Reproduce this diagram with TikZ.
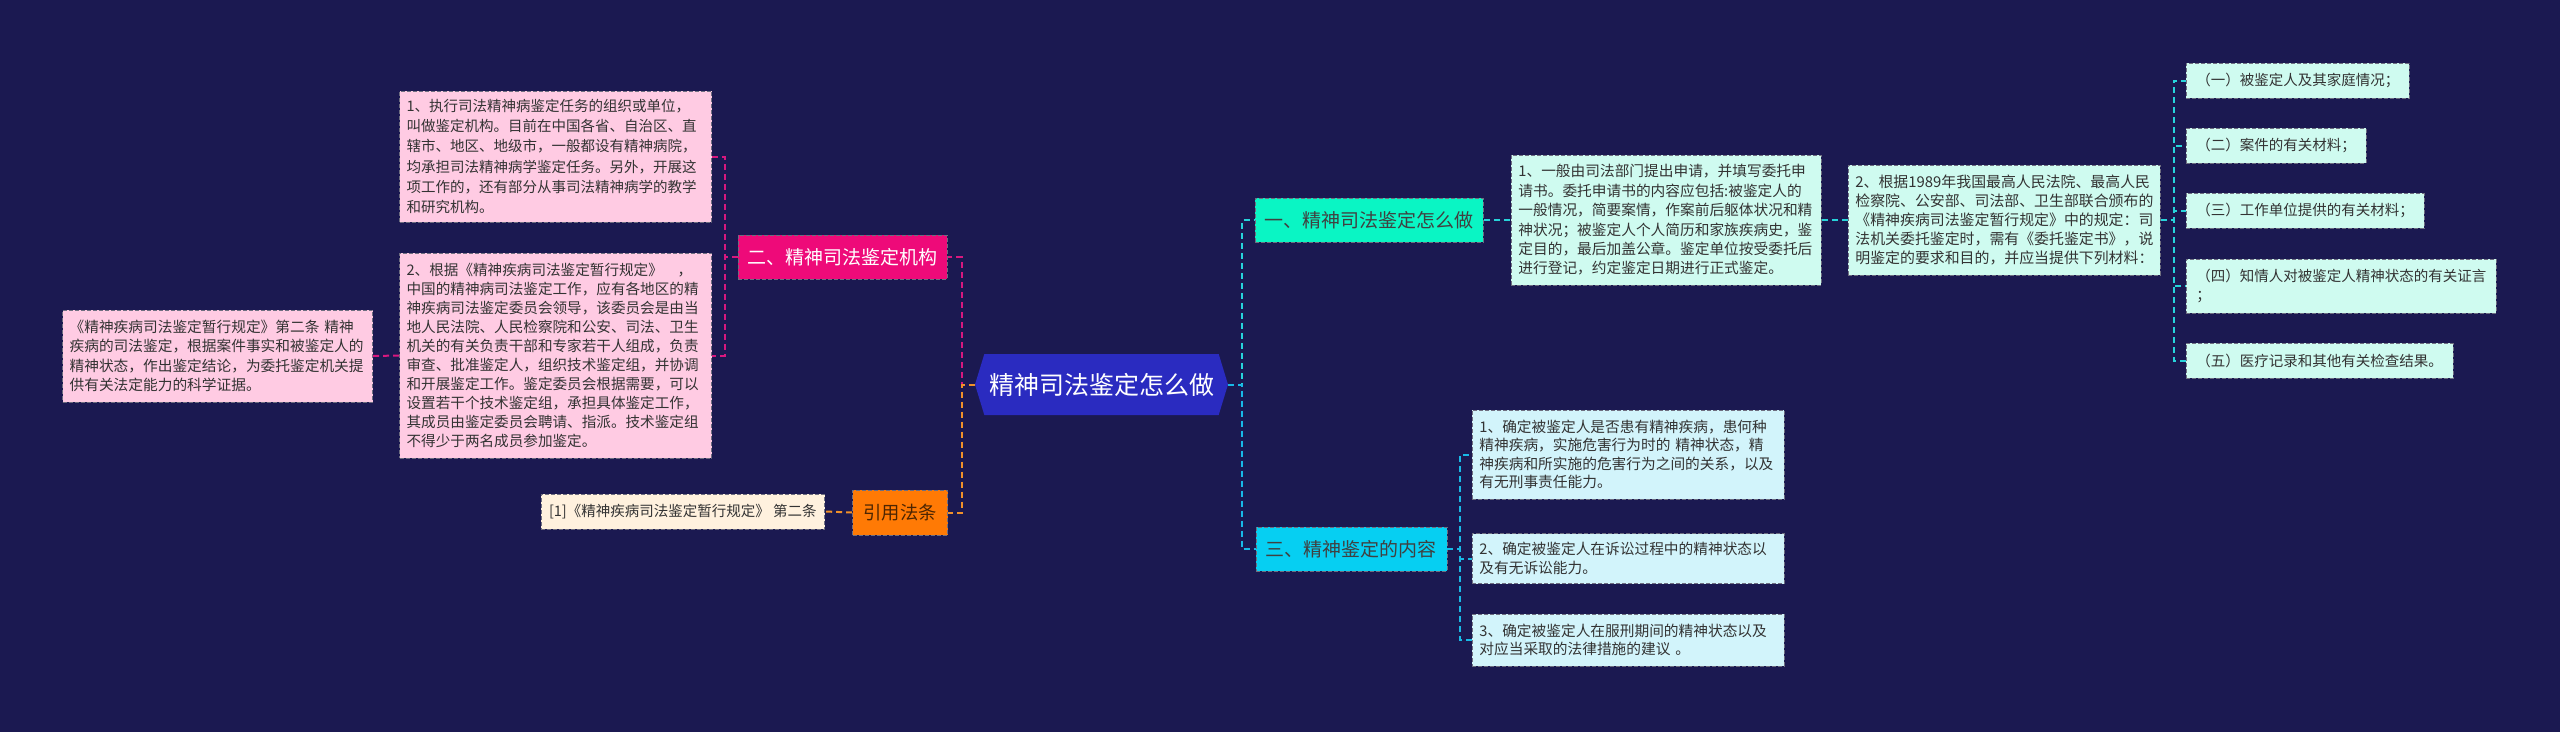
\documentclass[tikz,border=0pt]{standalone}
\usepackage{fontspec}
\setmainfont{Noto Sans CJK SC}
\usetikzlibrary{shapes.symbols}
\definecolor{mapbg}{HTML}{1B1951}
\definecolor{maproot}{HTML}{2A2BC0}
\definecolor{mapteal}{HTML}{0AF5C4}
\definecolor{mapsky}{HTML}{06CFF2}
\definecolor{mapmagenta}{HTML}{EE0A79}
\definecolor{maporange}{HTML}{FF7A05}
\definecolor{mapink}{HTML}{333333}
\definecolor{mapedge}{HTML}{6E6E80}
\definecolor{leafmint}{HTML}{CFFBF0}
\definecolor{leafice}{HTML}{D2F4FB}
\definecolor{leafpink}{HTML}{FFCBE3}
\definecolor{leafcream}{HTML}{FFF1DE}
\definecolor{linkteal}{HTML}{27D3DA}
\definecolor{linksky}{HTML}{18B9E6}
\definecolor{linkmagenta}{HTML}{D8187F}
\definecolor{linkorange}{HTML}{F0902A}
\newcommand{\mapfont}[2]{\fontsize{#1pt}{#2pt}\selectfont}
\tikzset{
  rootnode/.style={shape=signal,signal to=west and east,signal pointer angle=146,
    fill=maproot,text=white,minimum width=253pt,minimum height=61pt,inner sep=0pt,
    font=\mapfont{25}{30}},
  topicnode/.style={draw=mapedge,dash pattern=on 4pt off 2pt,line width=0.8pt,
    minimum height=44pt,inner xsep=8pt,font=\mapfont{19}{23}},
  notenode/.style={draw=mapedge,dash pattern=on 4pt off 2pt,line width=0.8pt,
    text=mapink,align=left,inner xsep=7pt,inner ysep=0pt},
  leafnode/.style={notenode,fill=leafmint,inner xsep=10pt,font=\mapfont{14.5}{19}},
  maplink/.style={dash pattern=on 6pt off 4pt,line width=2pt},
}

\begin{document}
\begin{tikzpicture}[x=1pt,y=-1pt]
  \fill[mapbg] (0,0) rectangle (2560,732);
  \node[rootnode] (root) at (1101.5,384.5) {精神司法鉴定怎么做};

  % main topics
  \node[topicnode,fill=mapteal,text=black!75,anchor=west,minimum width=228pt]
    (b1) at (1255,220) {一、精神司法鉴定怎么做};
  \node[topicnode,fill=mapsky,text=black!75,anchor=west,minimum width=191pt]
    (b3) at (1255.5,549) {三、精神鉴定的内容};
  \node[topicnode,fill=mapmagenta,text=white,anchor=east,minimum width=209pt]
    (b2) at (947.5,257) {二、精神司法鉴定机构};
  \node[topicnode,fill=maporange,text=black!70!maporange,anchor=east,minimum width=95pt,
    minimum height=45pt,font=\mapfont{18.3}{22}] (b4) at (948,512.5) {引用法条};

  % right side notes
  \node[notenode,fill=leafmint,anchor=west,text width=296pt,minimum height=130pt,
    font=\mapfont{14.7}{19.4}] (c11) at (1511,220)
    {1、一般由司法部门提出申请，并填写委托申\\
     请书。委托申请书的内容应包括:被鉴定人的\\
     一般情况，简要案情，作案前后躯体状况和精\\
     神状况；被鉴定人个人简历和家族疾病史，鉴\\
     定目的，最后加盖公章。鉴定单位按受委托后\\
     进行登记，约定鉴定日期进行正式鉴定。};
  \node[notenode,fill=leafmint,anchor=west,text width=298pt,minimum height=110pt,
    font=\mapfont{14.9}{19}] (c12) at (1848,220)
    {2、根据1989年我国最高人民法院、最高人民\\
     检察院、公安部、司法部、卫生部联合颁布的\\
     《精神疾病司法鉴定暂行规定》中的规定：司\\
     法机关委托鉴定时，需有《委托鉴定书》，说\\
     明鉴定的要求和目的，并应当提供下列材料：};
  \foreach \i/\y/\h/\t in {1/80.5/35/{（一）被鉴定人及其家庭情况；},
      2/145.5/35/{（二）案件的有关材料；},
      3/210.5/35/{（三）工作单位提供的有关材料；},
      4/286/54/{（四）知情人对被鉴定人精神状态的有关证言\\；},
      5/360.5/35/{（五）医疗记录和其他有关检查结果。}}
    {\node[leafnode,anchor=west,minimum height=\h pt] (d\i) at (2186,\y) {\t};}

  \node[notenode,fill=leafice,anchor=west,text width=298pt,minimum height=89pt,
    font=\mapfont{14.7}{18.3}] (c31) at (1472,454.5)
    {1、确定被鉴定人是否患有精神疾病，患何种\\
     精神疾病，实施危害行为时的 精神状态，精\\
     神疾病和所实施的危害行为之间的关系，以及\\
     有无刑事责任能力。};
  \node[notenode,fill=leafice,anchor=west,text width=298pt,minimum height=50pt,
    font=\mapfont{14.7}{18.3}] (c32) at (1472,558.5)
    {2、确定被鉴定人在诉讼过程中的精神状态以\\
     及有无诉讼能力。};
  \node[notenode,fill=leafice,anchor=west,text width=298pt,minimum height=52pt,
    font=\mapfont{14.7}{18.3}] (c33) at (1472,640)
    {3、确定被鉴定人在服刑期间的精神状态以及\\
     对应当采取的法律措施的建议 。};

  % left side notes
  \node[notenode,fill=leafpink,anchor=east,text width=298pt,minimum height=131pt,
    font=\mapfont{14.5}{20.3}] (a1) at (712,156.5)
    {1、执行司法精神病鉴定任务的组织或单位，\\
     叫做鉴定机构。目前在中国各省、自治区、直\\
     辖市、地区、地级市，一般都设有精神病院，\\
     均承担司法精神病学鉴定任务。另外，开展这\\
     项工作的，还有部分从事司法精神病学的教学\\
     和研究机构。};
  \node[notenode,fill=leafpink,anchor=east,text width=298pt,minimum height=205pt,
    font=\mapfont{14.6}{19}] (a2) at (712,355.5)
    {2、根据《精神疾病司法鉴定暂行规定》\hspace{1em}，\\
     中国的精神病司法鉴定工作，应有各地区的精\\
     神疾病司法鉴定委员会领导，该委员会是由当\\
     地人民法院、人民检察院和公安、司法、卫生\\
     机关的有关负责干部和专家若干人组成，负责\\
     审查、批准鉴定人，组织技术鉴定组，并协调\\
     和开展鉴定工作。鉴定委员会根据需要，可以\\
     设置若干个技术鉴定组，承担具体鉴定工作，\\
     其成员由鉴定委员会聘请、指派。技术鉴定组\\
     不得少于两名成员参加鉴定。};
  \node[notenode,fill=leafpink,anchor=east,text width=296pt,minimum height=92pt,
    font=\mapfont{14.7}{19.5}] (a3) at (373,356)
    {《精神疾病司法鉴定暂行规定》第二条 精神\\
     疾病的司法鉴定，根据案件事实和被鉴定人的\\
     精神状态，作出鉴定结论，为委托鉴定机关提\\
     供有关法定能力的科学证据。};
  \node[notenode,fill=leafcream,anchor=east,minimum height=35pt,inner xsep=8pt,
    font=\mapfont{14.5}{19}] (r1) at (825,511.5) {[1]《精神疾病司法鉴定暂行规定》 第二条};

  % connectors
  \draw[maplink,linkteal] (root.east) -- ++(14,0) |- (b1.west);
  \draw[maplink,linksky] (root.east) -- ++(14,0) |- (b3.west);
  \draw[maplink,linkmagenta] (root.west) -- ++(-13,0) |- (b2.east);
  \draw[maplink,linkorange] (root.west) -- ++(-13,0) |- (b4.east);
  \draw[maplink,linkteal] (b1.east) -- (c11.west);
  \draw[maplink,linkteal] (c11.east) -- (c12.west);
  \foreach \i in {1,...,5}
    {\draw[maplink,linkteal] (c12.east) -- ++(13,0) |- (d\i.west);}
  \foreach \i in {1,2,3}
    {\draw[maplink,linksky] (b3.east) -- ++(13,0) |- (c3\i.west);}
  \foreach \n in {a1,a2}
    {\draw[maplink,linkmagenta] (b2.west) -- ++(-13,0) |- (\n.east);}
  \draw[maplink,linkmagenta] (a2.west) -- (a3.east);
  \draw[maplink,linkorange] (b4.west) -- (r1.east);
\end{tikzpicture}
\end{document}
